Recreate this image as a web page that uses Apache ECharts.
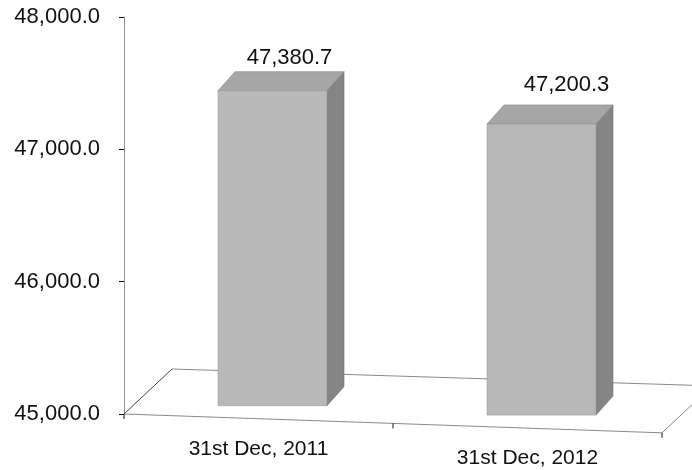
<!DOCTYPE html>
<html>
<head>
<meta charset="utf-8">
<script src="https://cdn.jsdelivr.net/npm/echarts@6/dist/echarts.min.js"></script>
<style>
  html, body { margin: 0; padding: 0; background: #fff; }
  #chart { width: 692px; height: 470px; }
</style>
</head>
<body>
<div id="chart"></div>
<script>
// Balances at year end
const categories = ['31st Dec, 2011', '31st Dec, 2012'];
const values = [47380.7, 47200.3];
const yMin = 45000;
const yMax = 48000;
const yStep = 1000;

// Pseudo-3D geometry of the floor and the box bars
const SLOPE = 0.035;          // floor drops slightly to the right
const FLOOR_DX = 48, FLOOR_DY = -45;   // floor depth vector
const BAR_DX = 14, BAR_DY = -13;       // bars stand a little way into the floor
const SIDE_DX = 17, SIDE_DY = -19;     // bar depth (top and side faces)
const FONT = '"Liberation Sans", Arial, sans-serif';
const TEXT = '#111';

const fmt = v => v.toLocaleString('en-US', { minimumFractionDigits: 1, maximumFractionDigits: 1 });

function renderFloor(params, api) {
  const cs = params.coordSys;
  const x0 = cs.x, y0 = cs.y + cs.height, x1 = cs.x + cs.width;
  const yR = y0 + cs.width * SLOPE;
  const band = cs.width / categories.length;
  const grey = { stroke: '#8a8a8a', lineWidth: 1 };
  const children = [
    { type: 'line', shape: { x1: x0 + FLOOR_DX, y1: y0 + FLOOR_DY, x2: x1 + FLOOR_DX, y2: yR + FLOOR_DY - 2 }, style: grey },
    { type: 'line', shape: { x1: x1, y1: yR, x2: x1 + FLOOR_DX, y2: yR + FLOOR_DY }, style: grey },
    { type: 'line', shape: { x1: x0, y1: y0, x2: x1, y2: yR }, style: grey },
    { type: 'line', shape: { x1: x0, y1: y0, x2: x0 + FLOOR_DX, y2: y0 + FLOOR_DY }, style: { stroke: '#444', lineWidth: 1 } }
  ];
  for (let k = 0; k <= categories.length; k++) {
    const tx = x0 + k * band;
    const ty = y0 + (tx - x0) * SLOPE;
    children.push({ type: 'line', shape: { x1: tx, y1: ty, x2: tx, y2: ty + 5 }, style: { stroke: '#111', lineWidth: 1 } });
  }
  categories.forEach((name, k) => {
    const cx = api.coord([k, yMin])[0];
    const cy = y0 + (cx - x0) * SLOPE + 30;
    children.push({
      type: 'text', x: cx, y: cy,
      style: { text: name, font: '21px ' + FONT, fill: TEXT, align: 'center', verticalAlign: 'middle' }
    });
  });
  return { type: 'group', children };
}

function renderBar(params, api) {
  const cs = params.coordSys;
  const i = api.value(0);
  const v = api.value(1);
  const top = api.coord([i, v]);
  const base = api.coord([i, yMin]);
  const band = api.size([1, 0])[0];
  const w = band * 0.405;
  const cx = top[0] + BAR_DX;
  const yb = base[1] + (top[0] - cs.x) * SLOPE + BAR_DY;
  const yt = yb - (base[1] - top[1]);
  const xa = cx - w / 2, xb = cx + w / 2;
  // value label sits above the top face, drifting with the perspective
  const t = (top[0] - cs.x) / cs.width;
  const lx = cx + 13 + t * 16;
  const ly = yt - 30 - t * 12;
  return {
    type: 'group',
    children: [
      { type: 'polygon', shape: { points: [[xb, yt], [xb + SIDE_DX, yt + SIDE_DY], [xb + SIDE_DX, yb + SIDE_DY], [xb, yb]] },
        style: { fill: '#858585', stroke: '#6c6c6c', lineWidth: 0.6 } },
      { type: 'polygon', shape: { points: [[xa, yt], [xb, yt], [xb + SIDE_DX, yt + SIDE_DY], [xa + SIDE_DX, yt + SIDE_DY]] },
        style: { fill: '#a6a6a6', stroke: '#878787', lineWidth: 0.6 } },
      { type: 'rect', shape: { x: xa, y: yt, width: w, height: yb - yt },
        style: { fill: '#b8b8b8', stroke: '#9c9c9c', lineWidth: 0.6 } },
      { type: 'text', x: lx, y: ly,
        style: { text: fmt(v), font: '22px ' + FONT, fill: TEXT, align: 'center', verticalAlign: 'middle' } }
    ]
  };
}

const chart = echarts.init(document.getElementById('chart'), null, { renderer: 'canvas' });
chart.setOption({
  animation: false,
  backgroundColor: '#ffffff',
  grid: { left: 124, right: 30, top: 17, bottom: 56, containLabel: false },
  xAxis: {
    type: 'category',
    data: categories,
    boundaryGap: true,
    axisLine: { show: false },
    axisTick: { show: false },
    axisLabel: { show: false },
    splitLine: { show: false }
  },
  yAxis: {
    type: 'value',
    min: yMin,
    max: yMax,
    interval: yStep,
    axisLine: { show: true, lineStyle: { color: '#8f8f8f', width: 1 } },
    axisTick: { show: true, inside: false, length: 5, lineStyle: { color: '#111', width: 1 } },
    axisLabel: { margin: 24, fontSize: 22, fontFamily: FONT, color: TEXT, formatter: v => fmt(v) },
    splitLine: { show: false }
  },
  series: [
    {
      type: 'custom',
      z: 1,
      renderItem: renderFloor,
      data: [[0, yMin]],
      clip: false,
      silent: true
    },
    {
      type: 'custom',
      z: 2,
      renderItem: renderBar,
      data: values.map((v, i) => [i, v]),
      clip: false
    }
  ]
});
</script>
</body>
</html>
